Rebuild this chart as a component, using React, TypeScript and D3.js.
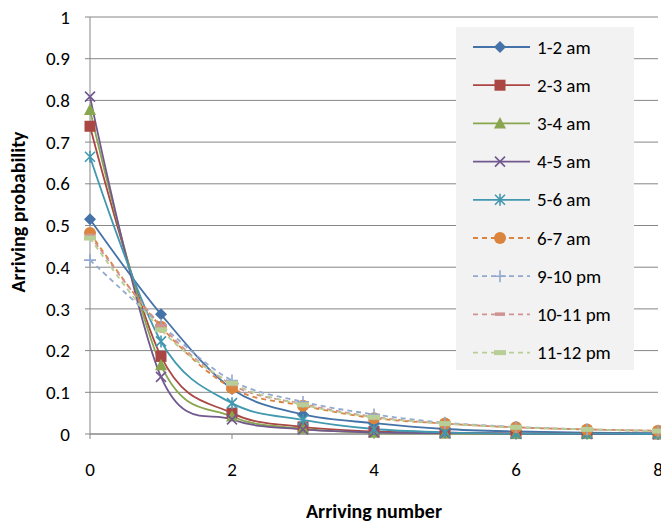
import React from "react";
import * as d3 from "d3";

const xValues = [0, 1, 2, 3, 4, 5, 6, 7, 8];
const seriesNames = ["1-2 am", "2-3 am", "3-4 am", "4-5 am", "5-6 am", "6-7 am", "9-10 pm", "10-11 pm", "11-12 pm"];
const s12am = [0.515, 0.287, 0.108, 0.047, 0.026, 0.012, 0.006, 0.003, 0.002];
const s23am = [0.738, 0.186, 0.05, 0.017, 0.006, 0.003, 0.001, 0.001, 0.0];
const s34am = [0.777, 0.165, 0.042, 0.013, 0.003, 0.001, 0.0, 0.0, 0.0];
const s45am = [0.809, 0.137, 0.035, 0.011, 0.004, 0.002, 0.001, 0.0, 0.0];
const s56am = [0.665, 0.222, 0.074, 0.034, 0.012, 0.004, 0.001, 0.001, 0.0];
const s67am = [0.482, 0.257, 0.11, 0.068, 0.038, 0.025, 0.016, 0.011, 0.008];
const s910pm = [0.417, 0.262, 0.128, 0.077, 0.047, 0.027, 0.017, 0.011, 0.007];
const s1011pm = [0.476, 0.26, 0.118, 0.072, 0.041, 0.025, 0.016, 0.011, 0.007];
const s1112pm = [0.47, 0.25, 0.122, 0.07, 0.04, 0.025, 0.016, 0.011, 0.007];
const seriesValues = [s12am, s23am, s34am, s45am, s56am, s67am, s910pm, s1011pm, s1112pm];
const colors = ["#4572A7", "#AA4643", "#89A54E", "#71588F", "#4198AF", "#DB843D", "#93A9CF", "#D19392", "#B9CD96"];
const markers = ["diamond", "square", "triangle", "x", "star", "circle", "plus", "dash", "bar"];
const dashed = [false, false, false, false, false, true, true, true, true];
const yTicks = [0, 0.1, 0.2, 0.3, 0.4, 0.5, 0.6, 0.7, 0.8, 0.9, 1];
const xTicks = [0, 2, 4, 6, 8];

const FONT = "Carlito, Lato, 'Open Sans', sans-serif";

function Marker({ type, x, y, color }: { type: string; x: number; y: number; color: string }) {
  const s = 5;
  switch (type) {
    case "diamond":
      return <path d={`M${x},${y - 6}L${x + 6},${y}L${x},${y + 6}L${x - 6},${y}Z`} fill={color} />;
    case "square":
      return <rect x={x - 5.5} y={y - 5.5} width={11} height={11} fill={color} />;
    case "triangle":
      return <path d={`M${x},${y - 6.5}L${x + 6},${y + 5}L${x - 6},${y + 5}Z`} fill={color} />;
    case "x":
      return <path d={`M${x - s},${y - s}L${x + s},${y + s}M${x - s},${y + s}L${x + s},${y - s}`} stroke={color} strokeWidth={1.6} fill="none" />;
    case "star":
      return <path d={`M${x - s},${y - s}L${x + s},${y + s}M${x - s},${y + s}L${x + s},${y - s}M${x},${y - 6}L${x},${y + 6}`} stroke={color} strokeWidth={1.6} fill="none" />;
    case "circle":
      return <circle cx={x} cy={y} r={6} fill={color} />;
    case "plus":
      return <path d={`M${x - 6},${y}L${x + 6},${y}M${x},${y - 6}L${x},${y + 6}`} stroke={color} strokeWidth={1.6} fill="none" />;
    case "dash":
      return <rect x={x - 5} y={y - 2} width={10} height={3.5} fill={color} />;
    case "bar":
      return <rect x={x - 6} y={y - 2.5} width={12} height={5} fill={color} />;
  }
  return null;
}

export default function App() {
  const W = 661, H = 526;
  const x = d3.scaleLinear().domain([0, 8]).range([90, 658]);
  const y = d3.scaleLinear().domain([0, 1]).range([434, 17]);
  const line = d3
    .line<number>()
    .x((_, i) => x(xValues[i]))
    .y((v) => y(v))
    .curve(d3.curveCardinal.tension(0));
  const legendX = 456, legendY = 27, legendW = 178, legendH = 343;
  const entryY = (i: number) => 47 + i * 38.2;
  const fs = 19;

  return (
    <svg width={W} height={H} style={{ position: "absolute", left: 0, top: 0, background: "#fff" }} fontFamily={FONT}>
      <rect width={W} height={H} fill="#fff" />
      {yTicks.map((t) => (
        <line key={"g" + t} x1={x(0)} x2={x(8)} y1={y(t)} y2={y(t)} stroke="#868686" strokeWidth={1} />
      ))}
      {/* axes */}
      <line x1={x(0)} x2={x(0)} y1={y(0)} y2={y(1)} stroke="#868686" strokeWidth={1} />
      <line x1={x(0)} x2={x(8)} y1={y(0)} y2={y(0)} stroke="#868686" strokeWidth={1} />
      {yTicks.map((t) => (
        <g key={"yt" + t}>
          <line x1={x(0) - 5} x2={x(0)} y1={y(t)} y2={y(t)} stroke="#868686" />
          <text x={70} y={y(t)} dy="0.35em" textAnchor="end" fontSize={fs} fill="#000">
            {d3.format("")(t)}
          </text>
        </g>
      ))}
      {xTicks.map((t) => (
        <g key={"xt" + t}>
          <line x1={x(t)} x2={x(t)} y1={y(0)} y2={y(0) + 5} stroke="#868686" />
          <text x={x(t)} y={476} textAnchor="middle" fontSize={fs} fill="#000">
            {t}
          </text>
        </g>
      ))}
      <text x={374} y={518} textAnchor="middle" fontSize={20} fontWeight="bold" fill="#000">
        Arriving number
      </text>
      <text transform="translate(25,212) rotate(-90)" textAnchor="middle" fontSize={20} fontWeight="bold" fill="#000">
        Arriving probability
      </text>
      {/* series lines */}
      {seriesValues.map((vals, si) => (
        <path
          key={"l" + si}
          d={line(vals) || ""}
          fill="none"
          stroke={colors[si]}
          strokeWidth={1.8}
          strokeDasharray={dashed[si] ? "5,4" : undefined}
        />
      ))}
      {seriesValues.map((vals, si) => (
        <g key={"m" + si}>
          {vals.map((v, i) => (
            <Marker key={i} type={markers[si]} x={x(xValues[i])} y={y(v)} color={colors[si]} />
          ))}
        </g>
      ))}
      {/* legend */}
      <rect x={legendX} y={legendY} width={legendW} height={legendH} fill="#f2f2f2" />
      {seriesNames.map((name, i) => (
        <g key={"lg" + i}>
          <line
            x1={473}
            x2={530}
            y1={entryY(i)}
            y2={entryY(i)}
            stroke={colors[i]}
            strokeWidth={1.8}
            strokeDasharray={dashed[i] ? "5,4" : undefined}
          />
          <Marker type={markers[i]} x={500} y={entryY(i)} color={colors[i]} />
          <text x={537} y={entryY(i)} dy="0.35em" fontSize={fs} fill="#000">
            {name}
          </text>
        </g>
      ))}
    </svg>
  );
}
